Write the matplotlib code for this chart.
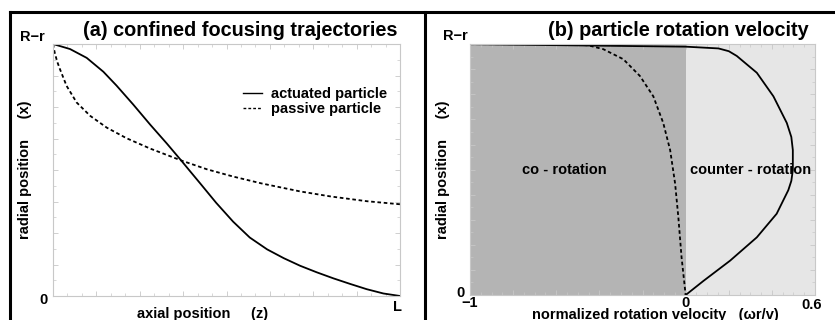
"""
Two-panel figure: confined focusing trajectories and particle rotation velocity.
"""

import matplotlib.pyplot as plt
from matplotlib.lines import Line2D
from matplotlib.ticker import MultipleLocator

plt.rcParams["font.family"] = ["Liberation Sans", "DejaVu Sans"]
plt.rcParams["font.weight"] = "bold"

# ──────────────────────────────────────────
# Data
# ──────────────────────────────────────────
# panel (a): axial position z (0..L -> 0..1) vs radial position x (0..R-r -> 0..1)
active_z = [0.0, 0.049, 0.097, 0.145, 0.183, 0.231, 0.28, 0.328, 0.371, 0.395,
            0.424, 0.47, 0.519, 0.567, 0.617, 0.665, 0.712, 0.76, 0.808, 0.856,
            0.904, 0.952, 1.0]
active_x = [1.0, 0.98, 0.945, 0.89, 0.835, 0.76, 0.68, 0.605, 0.535, 0.495,
            0.447, 0.37, 0.295, 0.232, 0.185, 0.15, 0.12, 0.094, 0.07, 0.048,
            0.027, 0.01, 0.0]

passive_z = [0.0, 0.005, 0.012, 0.02, 0.039, 0.068, 0.107, 0.155, 0.212, 0.28,
             0.371, 0.443, 0.519, 0.6, 0.712, 0.8, 0.905, 1.0]
passive_x = [1.0, 0.965, 0.93, 0.90, 0.834, 0.768, 0.715, 0.668, 0.626, 0.585,
             0.537, 0.503, 0.474, 0.447, 0.415, 0.395, 0.376, 0.364]

# panel (b): normalized rotation velocity vs radial position
active_v = [-1.0, -0.5, 0.0, 0.152, 0.20, 0.237, 0.33, 0.407, 0.469, 0.49,
            0.497, 0.497, 0.49, 0.476, 0.422, 0.33, 0.206, 0.082, 0.0]
active_y = [1.0, 0.995, 0.99, 0.983, 0.972, 0.953, 0.886, 0.792, 0.686, 0.63,
            0.578, 0.498, 0.455, 0.418, 0.324, 0.23, 0.137, 0.056, 0.0]

passive_v = [-1.0, -0.536, -0.45, -0.382, -0.289, -0.212, -0.15, -0.104, -0.072,
             -0.049, -0.034, -0.019, 0.0]
passive_y = [1.0, 1.0, 0.995, 0.98, 0.94, 0.873, 0.792, 0.686, 0.578,
             0.445, 0.311, 0.15, 0.0]

FRAME_GRAY = "#c8c8c8"
DARK_SHADE = "#b4b4b4"
LIGHT_SHADE = "#e6e6e6"
DASH = (0, (2, 1.5))
FS = 10.5


def style_axes(ax, xmajor, xminor, ymajor, yminor):
    for sp in ax.spines.values():
        sp.set_color(FRAME_GRAY)
        sp.set_linewidth(0.8)
    ax.xaxis.set_major_locator(MultipleLocator(xmajor))
    ax.xaxis.set_minor_locator(MultipleLocator(xminor))
    ax.yaxis.set_major_locator(MultipleLocator(ymajor))
    ax.yaxis.set_minor_locator(MultipleLocator(yminor))
    ax.tick_params(which="both", direction="in", top=True, right=True,
                   color=FRAME_GRAY, labelbottom=False, labelleft=False)
    ax.tick_params(which="major", length=3.5, width=0.6)
    ax.tick_params(which="minor", length=2, width=0.5)


def label(ax, x, y, s, **kw):
    kw.setdefault("fontsize", FS)
    ax.text(x, y, s, transform=ax.transAxes, fontweight="bold", **kw)


fig = plt.figure(figsize=(8.35, 3.2), dpi=100)

# ──────────────────────────────────────────
# (a) trajectories
# ──────────────────────────────────────────
ax1 = fig.add_axes([0.0635, 0.075, 0.4156, 0.7875])
ax1.plot(active_z, active_x, color="black", lw=1.3)
ax1.plot(passive_z, passive_x, color="black", lw=1.3, ls=DASH)
ax1.set_xlim(0, 1)
ax1.set_ylim(0, 1)
style_axes(ax1, 0.125, 0.125 / 3, 0.125, 0.125 / 2)

label(ax1, 0.994, 1.032, "(a) confined focusing trajectories", ha="right",
      va="baseline", fontsize=14.3)
label(ax1, -0.095, 1.028, "R\u2212r", ha="left", va="center")
label(ax1, -0.026, -0.016, "0", ha="center", va="center")
label(ax1, 0.994, -0.044, "L", ha="center", va="center")
label(ax1, 0.43, -0.045, "axial position     (z)", ha="center", va="top")
label(ax1, -0.08, 0.5, "radial position     (x)", ha="center", va="center",
      rotation=90)

handles = [Line2D([], [], color="black", lw=1.0),
           Line2D([], [], color="black", lw=1.0, ls=DASH)]
ax1.legend(handles, ["actuated particle", "passive particle"],
           loc="upper right", bbox_to_anchor=(1.0, 0.88), frameon=False,
           handlelength=1.3, handletextpad=0.6, labelspacing=0.05,
           prop={"size": 10.5, "weight": "bold"})

# ──────────────────────────────────────────
# (b) rotation velocity
# ──────────────────────────────────────────
ax2 = fig.add_axes([0.5629, 0.078, 0.4132, 0.784])
ax2.axvspan(-1, 0, color=DARK_SHADE, lw=0)
ax2.axvspan(0, 0.6, color=LIGHT_SHADE, lw=0)
ax2.plot(active_v, active_y, color="black", lw=1.3)
ax2.plot(passive_v, passive_y, color="black", lw=1.3, ls=DASH)
ax2.set_xlim(-1, 0.6)
ax2.set_ylim(0, 1)
style_axes(ax2, 0.2, 0.05, 0.1, 0.05)

label(ax2, 0.98, 1.032, "(b) particle rotation velocity", ha="right",
      va="baseline", fontsize=14.3)
label(ax2, -0.006, 1.032, "R\u2212r", ha="right", va="center")
label(ax2, -0.015, 0.01, "0", ha="right", va="center")
label(ax2, 0.0, -0.005, "\u22121", ha="center", va="top")
label(ax2, 0.625, -0.005, "0", ha="center", va="top")
label(ax2, 0.99, -0.01, "0.6", ha="center", va="top")
label(ax2, 0.536, -0.053, "normalized rotation velocity   (\u03c9r/v)",
      ha="center", va="top", fontsize=10.5)
label(ax2, -0.078, 0.5, "radial position     (x)", ha="center", va="center",
      rotation=90)
ax2.text(-0.565, 0.5, "co - rotation", ha="center", va="center",
         fontsize=FS, fontweight="bold")
ax2.text(0.3, 0.5, "counter - rotation", ha="center", va="center",
         fontsize=FS, fontweight="bold")

# outer panel frame lines
W, H = 835.0, 320.0
frame_kw = dict(color="black", lw=2.2, transform=fig.transFigure, clip_on=False)
fig.add_artist(Line2D([10 / W, 1.0], [1 - 12 / H, 1 - 12 / H], **frame_kw))
fig.add_artist(Line2D([10 / W, 10 / W], [0, 1 - 12 / H], **frame_kw))
fig.add_artist(Line2D([425 / W, 425 / W], [0, 1 - 12 / H], **frame_kw))

fig.savefig("out.png", dpi=100)
